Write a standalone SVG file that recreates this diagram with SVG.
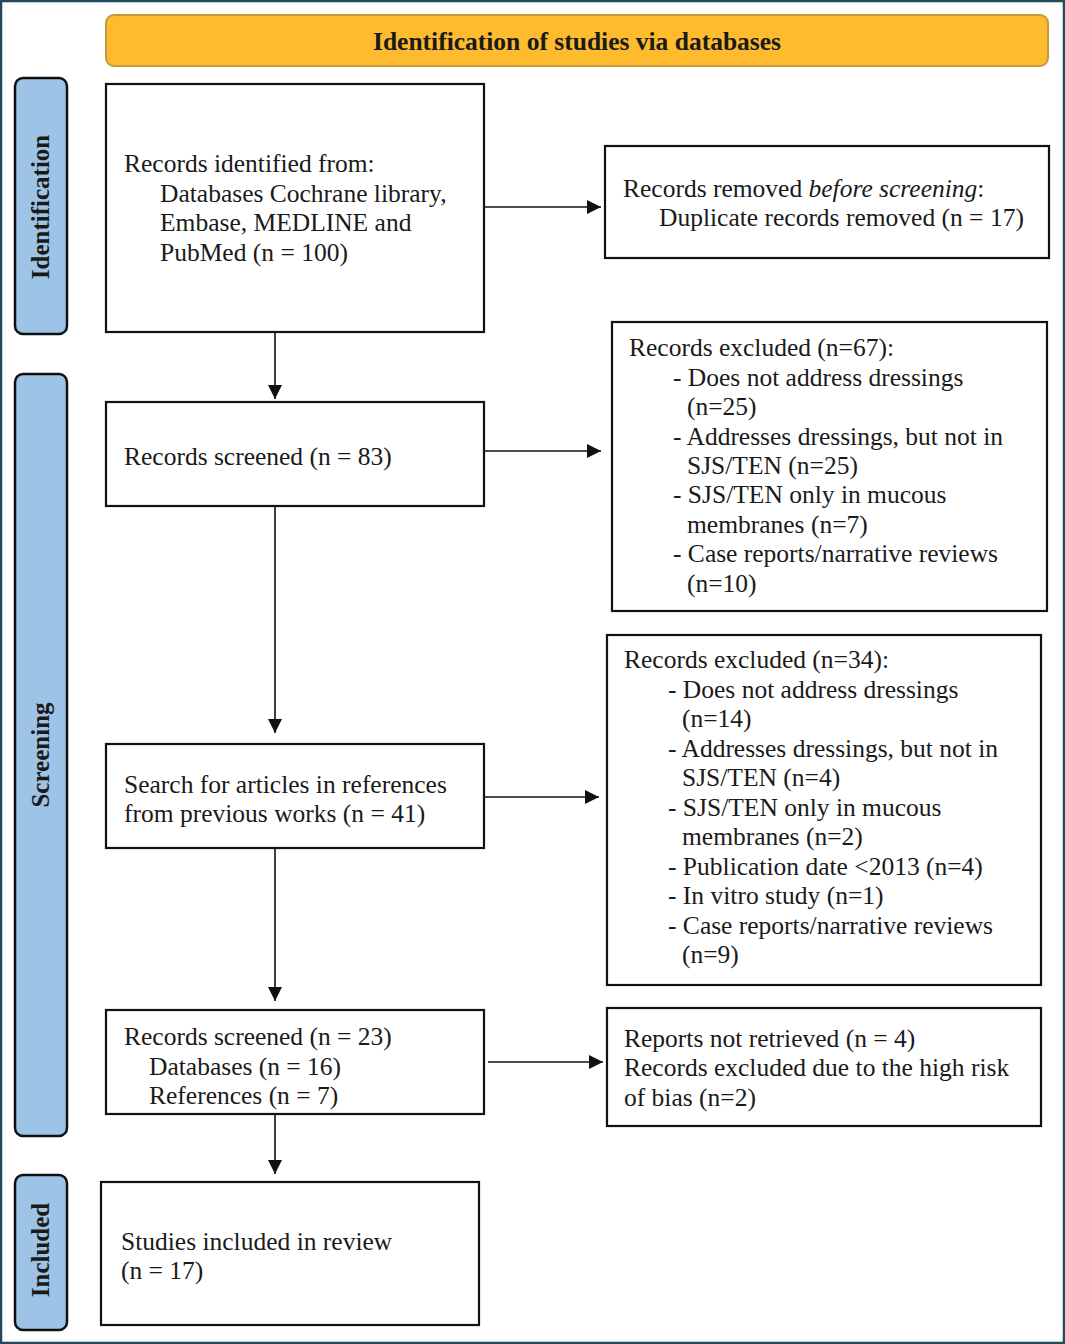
<svg xmlns="http://www.w3.org/2000/svg" width="1065" height="1344" viewBox="0 0 1065 1344">
<style>
.t{font-family:"Liberation Serif","Times New Roman",serif;font-size:25.5px;fill:#1a1a1a}
.box{fill:#fff;stroke:#111;stroke-width:2.2}
.side{fill:#9DC3E6;stroke:#111;stroke-width:2.5}
.sl{font-family:"Liberation Serif","Times New Roman",serif;font-size:25px;font-weight:bold;fill:#1a1a1a;text-anchor:middle}
.hd{font-family:"Liberation Serif","Times New Roman",serif;font-size:25.5px;font-weight:bold;fill:#1a1a1a;text-anchor:middle}
.c{stroke:#111;stroke-width:1.6;fill:none;marker-end:url(#ah)}
</style>
<defs>
<marker id="ah" viewBox="0 0 14 14" refX="14" refY="7" markerWidth="14" markerHeight="14" markerUnits="userSpaceOnUse" orient="auto">
<path d="M0,0 L14,7 L0,14 Z" fill="#111"/>
</marker>
</defs>
<rect x="0" y="0" width="1065" height="1344" fill="#fff"/>
<rect x="1" y="1" width="1063" height="1342" fill="none" stroke="#1F4A5C" stroke-width="2.5"/>

<g id="header">
<rect x="106" y="15" width="942" height="51" rx="8" fill="#FDBB2D" stroke="#C39A3E" stroke-width="2"/>
<text class="hd" x="577" y="50">Identification of studies via databases</text>
</g>

<g id="side-identification">
<rect class="side" x="15" y="78" width="52" height="256" rx="8"/>
<text class="sl" transform="translate(49,207) rotate(-90)">Identification</text>
</g>
<g id="side-screening">
<rect class="side" x="15" y="374" width="52" height="762" rx="8"/>
<text class="sl" transform="translate(49,755) rotate(-90)">Screening</text>
</g>
<g id="side-included">
<rect class="side" x="15" y="1175" width="52" height="155" rx="8"/>
<text class="sl" transform="translate(49,1250) rotate(-90)">Included</text>
</g>

<g id="n-identified">
<rect class="box" x="106" y="84" width="378" height="248"/>
<text class="t" x="124" y="172">Records identified from:</text>
<text class="t" x="160" y="202">Databases Cochrane library,</text>
<text class="t" x="160" y="231">Embase, MEDLINE and</text>
<text class="t" x="160" y="261">PubMed (n = 100)</text>
</g>

<g id="n-removed">
<rect class="box" x="605" y="146" width="444" height="112"/>
<text class="t" x="623" y="197">Records removed <tspan font-style="italic">before screening</tspan>:</text>
<text class="t" x="659" y="226">Duplicate records removed (n = 17)</text>
</g>

<g id="n-screened83">
<rect class="box" x="106" y="402" width="378" height="104"/>
<text class="t" x="124" y="465">Records screened (n = 83)</text>
</g>

<g id="n-excluded67">
<rect class="box" x="612" y="322" width="435" height="289"/>
<text class="t" x="629" y="356">Records excluded (n=67):</text>
<text class="t" x="673" y="386">- Does not address dressings</text>
<text class="t" x="687" y="415">(n=25)</text>
<text class="t" x="673" y="445">- Addresses dressings, but not in</text>
<text class="t" x="687" y="474">SJS/TEN (n=25)</text>
<text class="t" x="673" y="503">- SJS/TEN only in mucous</text>
<text class="t" x="687" y="533">membranes (n=7)</text>
<text class="t" x="673" y="562">- Case reports/narrative reviews</text>
<text class="t" x="687" y="592">(n=10)</text>
</g>

<g id="n-search">
<rect class="box" x="106" y="744" width="378" height="104"/>
<text class="t" x="124" y="793">Search for articles in references</text>
<text class="t" x="124" y="822">from previous works (n = 41)</text>
</g>

<g id="n-excluded34">
<rect class="box" x="607" y="635" width="434" height="350"/>
<text class="t" x="624" y="668">Records excluded (n=34):</text>
<text class="t" x="668" y="698">- Does not address dressings</text>
<text class="t" x="682" y="727">(n=14)</text>
<text class="t" x="668" y="757">- Addresses dressings, but not in</text>
<text class="t" x="682" y="786">SJS/TEN (n=4)</text>
<text class="t" x="668" y="816">- SJS/TEN only in mucous</text>
<text class="t" x="682" y="845">membranes (n=2)</text>
<text class="t" x="668" y="875">- Publication date &lt;2013 (n=4)</text>
<text class="t" x="668" y="904">- In vitro study (n=1)</text>
<text class="t" x="668" y="934">- Case reports/narrative reviews</text>
<text class="t" x="682" y="963">(n=9)</text>
</g>

<g id="n-screened23">
<rect class="box" x="106" y="1010" width="378" height="104"/>
<text class="t" x="124" y="1045">Records screened (n = 23)</text>
<text class="t" x="149" y="1075">Databases (n = 16)</text>
<text class="t" x="149" y="1104">References (n = 7)</text>
</g>

<g id="n-notretrieved">
<rect class="box" x="607" y="1008" width="434" height="118"/>
<text class="t" x="624" y="1047">Reports not retrieved (n = 4)</text>
<text class="t" x="624" y="1076">Records excluded due to the high risk</text>
<text class="t" x="624" y="1106">of bias (n=2)</text>
</g>

<g id="n-included">
<rect class="box" x="101" y="1182" width="378" height="143"/>
<text class="t" x="121" y="1250">Studies included in review</text>
<text class="t" x="121" y="1279">(n = 17)</text>
</g>

<g id="connectors">
<line class="c" x1="275" y1="333" x2="275" y2="399"/>
<line class="c" x1="275" y1="507" x2="275" y2="733"/>
<line class="c" x1="275" y1="849" x2="275" y2="1001"/>
<line class="c" x1="275" y1="1115" x2="275" y2="1174"/>
<line class="c" x1="485" y1="207" x2="601" y2="207"/>
<line class="c" x1="485" y1="451" x2="601" y2="451"/>
<line class="c" x1="485" y1="797" x2="599" y2="797"/>
<line class="c" x1="488" y1="1062" x2="603" y2="1062"/>
</g>
</svg>
